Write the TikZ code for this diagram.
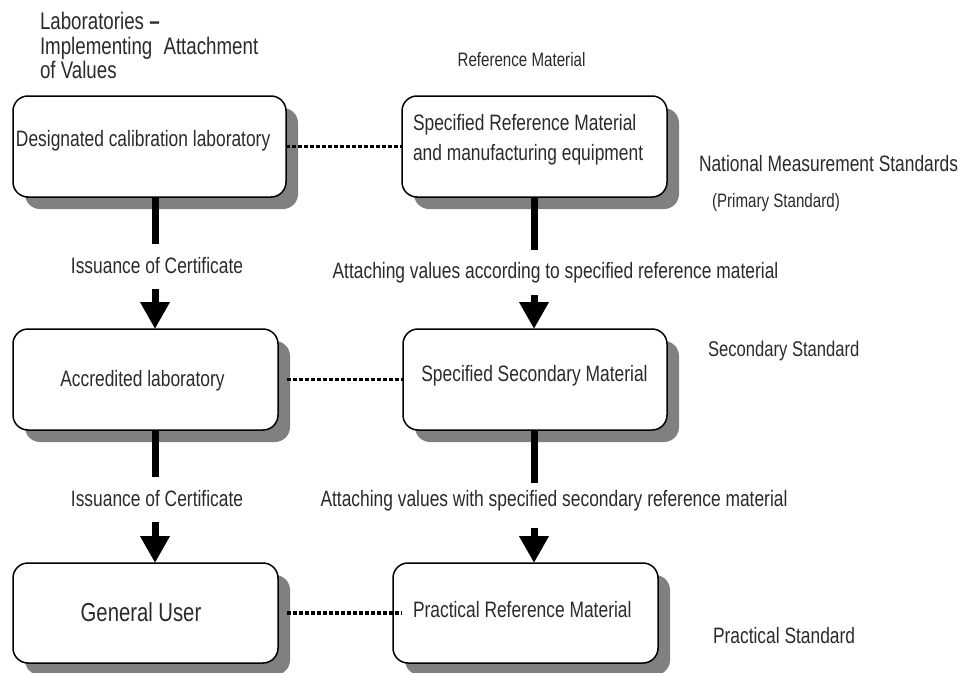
\documentclass[tikz,border=0pt]{standalone}
\usepackage{fontspec}
\setmainfont[FakeStretch=0.78]{Liberation Sans}
\usetikzlibrary{arrows.meta,shadows,calc}
\definecolor{shgray}{HTML}{808080}
\definecolor{txtc}{HTML}{2B2B2B}
\newcommand{\fsz}[1]{\fontsize{#1}{#1}\selectfont}
\begin{document}
\begin{tikzpicture}[x=1pt,y=-1pt,
 box/.style={draw=black, line width=1.5pt, rounded corners=15pt, fill=white, inner sep=0pt, outer sep=0pt,
   drop shadow={shadow xshift=12pt, shadow yshift=-12pt, fill=shgray, opacity=1}},
 txt/.style={inner sep=0pt, outer sep=0pt, text=txtc, font=\fsz{22.3}},
 stem/.style={line width=7pt, line cap=butt},
 arr/.style={line width=7pt, -{Triangle[width=28pt,length=27pt]}},
 dotl/.style={line width=3.5pt, dash pattern=on 4pt off 2pt}]
\fill[white] (0,0) rectangle (960,672);
\useasboundingbox (0,0) rectangle (960,672);

% top-left heading
\node[txt, font=\fsz{24}, anchor=base west] (h1) at (40,29) {Laboratories \textbf{–}};
\node[txt, font=\fsz{24}, anchor=base west] (h2) at (40,54) {Implementing\hspace{6pt} Attachment};
\node[txt, font=\fsz{24}, anchor=base west] (h3) at (40,78) {of Values};
\node[txt, font=\fsz{19.4}, anchor=base] (h4) at (521.5,66) {Reference Material};

% boxes
\node[box, minimum width=273pt, minimum height=101pt] (b1) at (149.5,146.5) {};
\node[box, minimum width=265pt, minimum height=101pt] (b2) at (534.5,146.5) {};
\node[box, minimum width=265pt, minimum height=101pt] (b3) at (145.5,379.5) {};
\node[box, minimum width=264pt, minimum height=101pt] (b4) at (535,379.5) {};
\node[box, minimum width=265pt, minimum height=100pt] (b5) at (145.5,613) {};
\node[box, minimum width=265pt, minimum height=100pt] (b6) at (525.5,613) {};

% box texts
\node[txt, anchor=base west] (t1) at (16,146) {Designated calibration laboratory};
\node[txt, anchor=base west] (t2a) at (413,130) {Specified Reference Material};
\node[txt, anchor=base west] (t2b) at (413,160) {and manufacturing equipment};
\node[txt, anchor=base] (t3) at (142.5,386) {Accredited laboratory};
\node[txt, anchor=base] (t4) at (534.5,381) {Specified Secondary Material};
\node[txt, font=\fsz{26}, anchor=base] (t5) at (141,621) {General User};
\node[txt, anchor=base west] (t6) at (413,617) {Practical Reference Material};

% right-hand labels
\node[txt, anchor=base west] (r1) at (699,171) {National Measurement Standards};
\node[txt, font=\fsz{19.4}, anchor=base west] (r2) at (712,207) {(Primary Standard)};
\node[txt, font=\fsz{21.3}, anchor=base west] (r3) at (708,356) {Secondary Standard};
\node[txt, anchor=base west] (r4) at (713,643) {Practical Standard};

% connector labels
\node[txt, anchor=base] (l1) at (157,273) {Issuance of Certificate};
\node[txt, anchor=base] (l2) at (157,506) {Issuance of Certificate};
\node[txt, anchor=base] (l3) at (555.5,278) {Attaching values according to specified reference material};
\node[txt, anchor=base] (l4) at (554,506) {Attaching values with specified secondary reference material};

% column coordinates and free ends
\coordinate (colL) at (155,0);
\coordinate (colR) at (534,0);
\coordinate (e1) at (155,244);
\coordinate (s1) at (155,289);
\coordinate (e2) at (155,477);
\coordinate (s2) at (155,522);
\coordinate (e3) at (534,250);
\coordinate (s3) at (534,295);
\coordinate (e4) at (534,483);
\coordinate (s4) at (534,528);

% vertical connectors
\draw[stem] (b1.south -| colL) -- (e1);
\draw[arr] (s1) -- (b3.north -| colL);
\draw[stem] (b3.south -| colL) -- (e2);
\draw[arr] (s2) -- (b5.north -| colL);
\draw[stem] (b2.south -| colR) -- (e3);
\draw[arr] (s3) -- (b4.north -| colR);
\draw[stem] (b4.south -| colR) -- (e4);
\draw[arr] (s4) -- (b6.north -| colR);

% dotted links
\draw[dotl] (b1.east) -- (b2.west);
\draw[dotl] ([xshift=9pt]b3.east) -- (b4.west);
\draw[dotl] ([xshift=9pt]b5.east) -- ([xshift=9pt]b6.west);
\end{tikzpicture}
\end{document}
